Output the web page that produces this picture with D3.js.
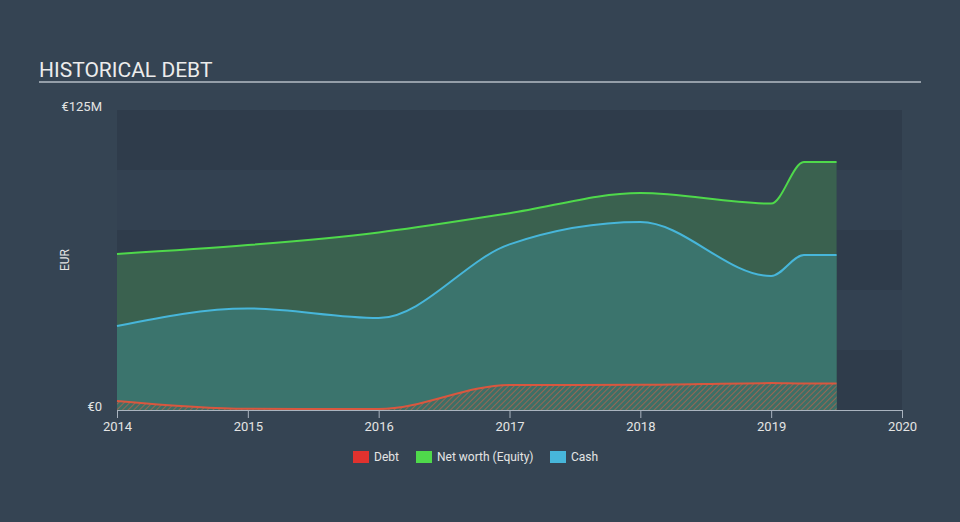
<!DOCTYPE html>
<html>
<head>
<meta charset="utf-8">
<script src="https://cdn.jsdelivr.net/npm/d3@7"></script>
<style>
  html, body { margin: 0; padding: 0; background: #354453; }
  svg { display: block; font-family: Roboto, "Open Sans", sans-serif; }
</style>
</head>
<body>
<svg id="chart" width="960" height="522"></svg>
<script>
// Values in EUR millions.
const dates = [2014, 2015, 2016, 2017, 2018, 2019, 2019.25, 2019.5];
const debt = [3.8, 0.5, 0.4, 10.4, 10.5, 11.2, 11.0, 11.0];
const netWorth = [65, 68.7, 74, 82, 90.4, 86, 103.3, 103.3];
const cash = [35, 42.3, 38.3, 69, 78.3, 55.8, 64.6, 64.6];
const xTicks = [2014, 2015, 2016, 2017, 2018, 2019, 2020];
const yTickLabels = ['€0', '€125M'];
const legendItems = ['Debt', 'Net worth (Equity)', 'Cash'];

const W = 960, H = 522;
const M = { left: 117, right: 58, top: 110, bottom: 112 };
const COLORS = { debt: '#e0322e', equity: '#4fd94b', cash: '#47b6da' };

const svg = d3.select('#chart');
svg.append('rect').attr('width', W).attr('height', H).attr('fill', '#354453');

const x = d3.scaleLinear().domain([2014, 2020]).range([M.left, W - M.right]);
const y = d3.scaleLinear().domain([0, 125]).range([H - M.bottom, M.top]);

// Title + rule.
svg.append('text')
  .attr('x', 39).attr('y', 77)
  .attr('fill', '#ececec').attr('font-size', 21)
  .text('HISTORICAL DEBT');
svg.append('line')
  .attr('x1', 39).attr('x2', 921).attr('y1', 82).attr('y2', 82)
  .attr('stroke', '#b4bcc4').attr('stroke-width', 1.5);

// Banded plot background (5 bands of 25M).
const bands = d3.range(0, 125, 25);
svg.append('g').selectAll('rect')
  .data(bands)
  .join('rect')
  .attr('x', x(2014))
  .attr('width', x(2020) - x(2014))
  .attr('y', (d) => y(d + 25))
  .attr('height', (d) => y(d) - y(d + 25))
  .attr('fill', (d, i) => (i % 2 === 0 ? '#2f3c4b' : '#334151'));

// Hatch pattern for debt.
const defs = svg.append('defs');
const pat = defs.append('pattern')
  .attr('id', 'hatch').attr('patternUnits', 'userSpaceOnUse')
  .attr('width', 4).attr('height', 4)
  .attr('patternTransform', 'rotate(45)');
pat.append('rect').attr('width', 4).attr('height', 4).attr('fill', '#3d6f66');
pat.append('line').attr('x1', 0).attr('y1', 0).attr('x2', 0).attr('y2', 4)
  .attr('stroke', '#b0634e').attr('stroke-width', 1.6);

const rows = dates.map((d, i) => ({ d, debt: debt[i], eq: netWorth[i], cash: cash[i] }));
const curve = d3.curveMonotoneX;
const area = (k) => d3.area().curve(curve).x((r) => x(r.d)).y0(y(0)).y1((r) => y(r[k]));
const line = (k) => d3.line().curve(curve).x((r) => x(r.d)).y((r) => y(r[k]));

svg.append('path').datum(rows).attr('d', area('eq')).attr('fill', '#3a614f');
svg.append('path').datum(rows).attr('d', area('cash')).attr('fill', '#3b746d');
svg.append('path').datum(rows).attr('d', area('debt')).attr('fill', 'url(#hatch)');

svg.append('path').datum(rows).attr('d', line('eq'))
  .attr('fill', 'none').attr('stroke', COLORS.equity).attr('stroke-width', 2);
svg.append('path').datum(rows).attr('d', line('cash'))
  .attr('fill', 'none').attr('stroke', COLORS.cash).attr('stroke-width', 2);
svg.append('path').datum(rows).attr('d', line('debt'))
  .attr('fill', 'none').attr('stroke', '#d9573f').attr('stroke-width', 2);

// X axis.
const xAxis = svg.append('g')
  .attr('transform', `translate(0,${y(0)})`)
  .call(d3.axisBottom(x).tickValues(xTicks).tickFormat(d3.format('d')).tickSize(8).tickPadding(4));
xAxis.select('.domain').attr('stroke', '#aab4bf');
xAxis.selectAll('.tick line').attr('stroke', '#aab4bf');
xAxis.selectAll('.tick text').attr('fill', '#e4e4e4').attr('font-size', 13)
  .attr('font-family', 'Roboto, sans-serif');

// Y labels (only ends).
svg.append('g').selectAll('text')
  .data([0, 125])
  .join('text')
  .attr('x', 102)
  .attr('y', (d) => y(d))
  .attr('dy', (d) => (d === 0 ? '0.1em' : '0.05em'))
  .attr('text-anchor', 'end')
  .attr('fill', '#e4e4e4').attr('font-size', 13)
  .text((d, i) => yTickLabels[i]);

svg.append('text')
  .attr('transform', `translate(69,${y(62.5)}) rotate(-90)`)
  .attr('text-anchor', 'middle')
  .attr('fill', '#e4e4e4').attr('font-size', 12)
  .text('EUR');

// Legend.
const legendX = [353, 416, 550];
const legendColors = [COLORS.debt, COLORS.equity, COLORS.cash];
const lg = svg.append('g').selectAll('g')
  .data(legendItems)
  .join('g')
  .attr('transform', (d, i) => `translate(${legendX[i]},451)`);
lg.append('rect').attr('width', 16).attr('height', 12).attr('fill', (d, i) => legendColors[i]);
lg.append('text').attr('x', 21).attr('y', 6).attr('dy', '0.35em')
  .attr('fill', '#e4e4e4').attr('font-size', 12).text((d) => d);
</script>
</body>
</html>
